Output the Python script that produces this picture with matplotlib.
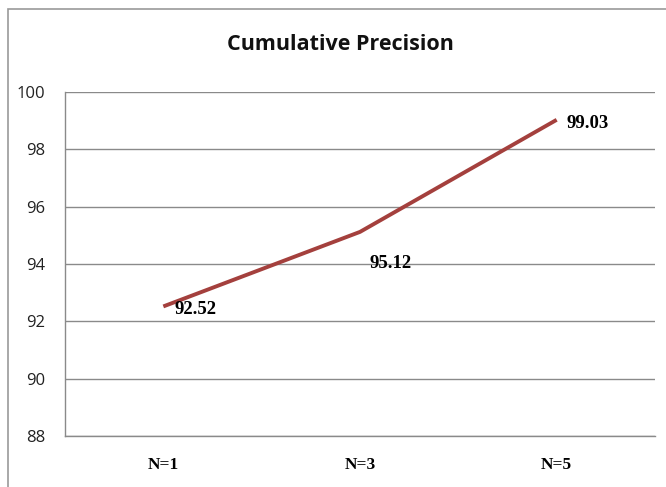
import numpy as np
import matplotlib.pyplot as plt
from matplotlib.patches import Rectangle

categories = ["N=1", "N=3", "N=5"]
precision = [92.52, 95.12, 99.03]
yticks = [88, 90, 92, 94, 96, 98, 100]

# label offsets (points) so they sit where the original put them
label_offsets = [(8, -2), (7, -23), (7, -3)]

fig = plt.figure(figsize=(6.66, 4.87), dpi=100)
fig.patches.append(Rectangle((8/666, -0.1), 1.1, 1 - 9/487 + 0.1,
                             transform=fig.transFigure, fill=False,
                             edgecolor="#999999", linewidth=1.2))

ax = fig.add_axes([65/666, 51/487, 590/666, 344/487])
x = np.arange(len(categories))
ax.plot(x, precision, color="#A4403D", linewidth=2.8, solid_capstyle="butt")

for xi, v, (dx, dy) in zip(x, precision, label_offsets):
    ax.annotate(f"{v:.2f}", (xi, v), xytext=(dx, dy), textcoords="offset points",
                ha="left", va="center", fontsize=13.5, fontweight="bold",
                family="Liberation Serif", color="black")

ax.set_xlim(-0.5, len(categories) - 0.5)
ax.set_ylim(88, 100)
ax.set_yticks(yticks)
ax.set_yticklabels([str(t) for t in yticks], fontsize=12, family="Open Sans", color="#222222")
ax.set_xticks(x)
ax.set_xticklabels(categories, fontsize=12.5, fontweight="bold", family="Liberation Serif")
ax.tick_params(axis="both", length=0)
ax.tick_params(axis="y", pad=14)
ax.tick_params(axis="x", pad=15)
ax.grid(axis="y", color="#8a8a8a", linewidth=1)
ax.set_axisbelow(True)
for s in ["top", "right"]:
    ax.spines[s].set_visible(False)
for s in ["left", "bottom"]:
    ax.spines[s].set_color("#8a8a8a")
    ax.spines[s].set_linewidth(1)

fig.text(340/666, 1 - 45/487, "Cumulative Precision", ha="center", va="center",
         fontsize=15.5, fontweight="bold", family="Open Sans", color="#111111")

fig.savefig("out.png", dpi=100)
